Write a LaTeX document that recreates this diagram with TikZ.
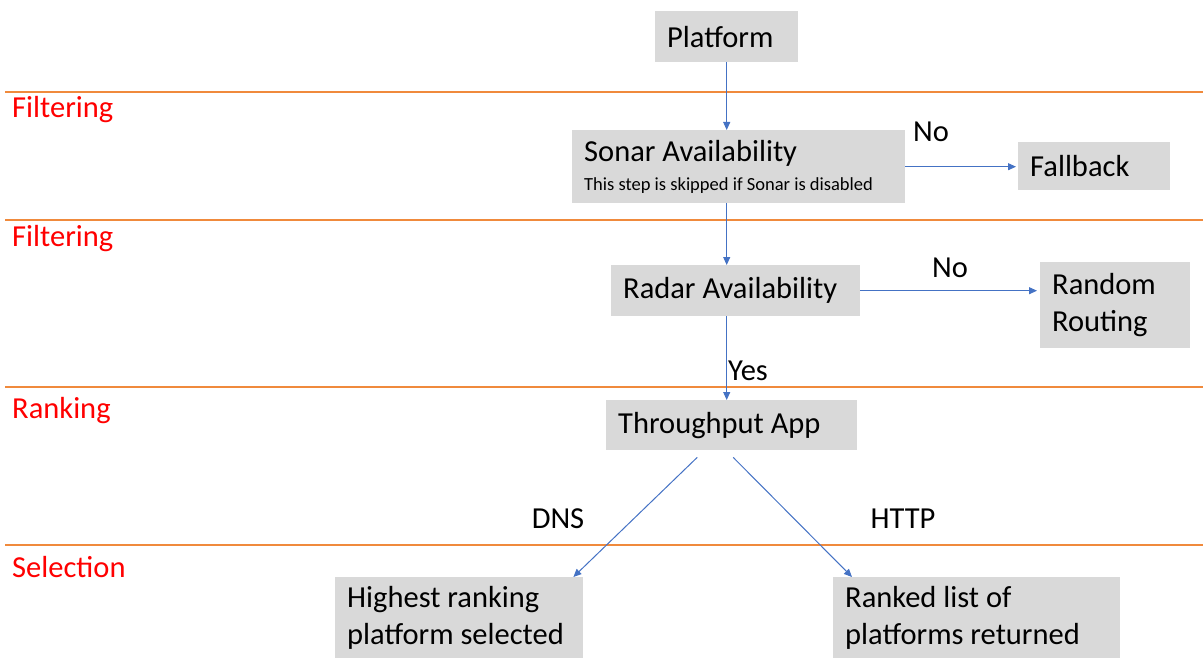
\documentclass[tikz,border=0pt]{standalone}
\usepackage{fontspec}
\setmainfont{Carlito}
\usetikzlibrary{arrows.meta}
\definecolor{boxgray}{HTML}{D9D9D9}
\definecolor{arrblue}{HTML}{4472C4}
\definecolor{lineorange}{HTML}{F08A3C}
\definecolor{secred}{HTML}{FF0000}
\begin{document}
\begin{tikzpicture}[x=1pt,y=-1pt,
  box/.style={fill=boxgray, anchor=north west, inner xsep=12pt, inner ysep=0pt, align=flush left,
    font=\fontsize{30.5}{37}\selectfont},
  arr/.style={draw=arrblue, line width=1pt, -{Triangle[length=8pt,width=7pt]}},
  sepline/.style={draw=lineorange, line width=1.5pt},
  sec/.style={anchor=west, text=secred, inner sep=0pt, font=\fontsize{30.5}{37}\selectfont},
  lab/.style={inner sep=0pt, font=\fontsize{30.5}{37}\selectfont}]
\useasboundingbox (0,0) rectangle (1203,658);

% separators
\foreach \yy/\nm in {92/s1,220/s2,387/s3,545/s4}{
  \coordinate (\nm a) at (5,\yy);
  \coordinate (\nm b) at (1203,\yy);
  \draw[sepline] (\nm a) -- (\nm b);
}
\node[sec] (f1) at (12,110) {Filtering};
\node[sec] (f2) at (12,239) {Filtering};
\node[sec] (rk) at (12,411) {Ranking};
\node[sec] (sel) at (12,567) {Selection};

% boxes
\node[box, text width=119pt, minimum height=51pt] (platform) at (655,11) {Platform};
\node[box, text width=309pt, minimum height=73pt] (sonar) at (572,130)
  {Sonar Availability\\[-8pt]{\fontsize{18.5}{22}\selectfont This step is skipped if Sonar is disabled}};
\node[box, text width=128pt, minimum height=48pt] (fallback) at (1018,142) {Fallback};
\node[box, text width=225pt, minimum height=51pt] (radar) at (611,265) {Radar Availability};
\node[box, text width=126pt, minimum height=86pt] (random) at (1040,262) {Random\\Routing};
\node[box, text width=227pt, minimum height=50pt] (thr) at (606,400) {Throughput App};
\node[box, text width=224pt, minimum height=81pt] (high) at (335,577) {Highest ranking\\platform selected};
\node[box, text width=263pt, minimum height=81pt] (ranked) at (833,577) {Ranked list of\\platforms returned};

% connectors
\draw[arr] (platform.south) -- (platform.south |- sonar.north);
\draw[arr] (platform.south |- sonar.south) -- (platform.south |- radar.north);
\draw[arr] (platform.south |- radar.south) -- (platform.south |- thr.north);
\draw[arr] (sonar.east) -- ([xshift=-2pt]fallback.west |- sonar.east);
\draw[arr] (radar.east) -- ([xshift=-3pt]random.west |- radar.east);
\draw[arr] ([xshift=-34.5pt,yshift=-7pt]thr.south) -- ([xshift=-10pt]high.north east);
\draw[arr] ([xshift=1.5pt,yshift=-7pt]thr.south) -- ([xshift=19pt]ranked.north west);

% labels
\node[lab] (no1) at (931,132) {No};
\node[lab] (no2) at (950,268) {No};
\node[lab] (yes) at (748,371) {Yes};
\node[lab] (dns) at (558,519) {DNS};
\node[lab] (http) at (903,519) {HTTP};
\end{tikzpicture}
\end{document}
